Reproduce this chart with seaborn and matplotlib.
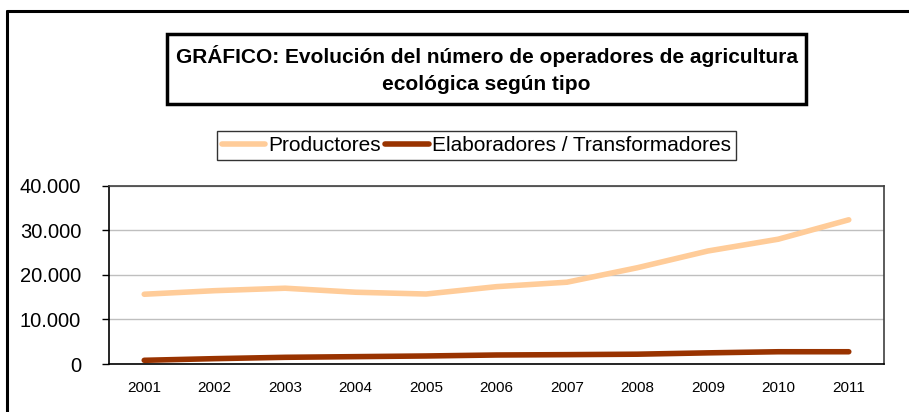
import matplotlib
matplotlib.use("Agg")
import matplotlib.pyplot as plt
from matplotlib.patches import Rectangle
from matplotlib.lines import Line2D
from matplotlib.ticker import FuncFormatter, FixedLocator
import seaborn as sns
import pandas as pd
import numpy as np

years = ["2001", "2002", "2003", "2004", "2005", "2006", "2007", "2008", "2009", "2010", "2011"]
productores = [15650, 16450, 17000, 16100, 15700, 17350, 18350, 21600, 25350, 28000, 32350]
elaboradores = [830, 1200, 1500, 1650, 1800, 2020, 2100, 2200, 2500, 2750, 2750]
series_names = ["Productores", "Elaboradores / Transformadores"]
colors = ["#FFCC99", "#993300"]
title_lines = ["GRÁFICO: Evolución del número de operadores de agricultura", "ecológica según tipo"]

sns.set_theme(style="white")
plt.rcParams["font.family"] = ["Liberation Sans", "DejaVu Sans"]
plt.rcParams["text.color"] = "black"
plt.rcParams["xtick.color"] = "black"
plt.rcParams["ytick.color"] = "black"

df = pd.DataFrame({
    "x": list(range(len(years))) * 2,
    "valor": productores + elaboradores,
    "serie": [series_names[0]] * len(years) + [series_names[1]] * len(years),
})

W, H = 909, 412
fig = plt.figure(figsize=(W / 100, H / 100), dpi=100)
ax = fig.add_axes([109 / W, 1 - 364 / H, (884 - 109) / W, (364 - 185.7) / H])

sns.lineplot(data=df, x="x", y="valor", hue="serie", palette=colors,
             linewidth=4.0, ax=ax, legend=False, solid_capstyle="round")

ax.set_xlim(-0.5, len(years) - 0.5)
ax.set_ylim(0, 40000)
ax.set_xlabel("")
ax.set_ylabel("")
ax.set_yticks([0, 10000, 20000, 30000, 40000])
ax.yaxis.set_major_formatter(FuncFormatter(lambda v, p: f"{int(v):,}".replace(",", ".")))
ax.set_xticks(range(len(years)))
ax.set_xticklabels(years)
ax.xaxis.set_minor_locator(FixedLocator(np.arange(-0.5, len(years), 1.0)))
ax.tick_params(axis="x", which="major", length=0, labelsize=11, pad=12, labelcolor="black")
ax.tick_params(axis="x", which="minor", length=5, width=1, color="black", direction="out")
ax.tick_params(axis="y", which="major", length=5, width=1, color="black", direction="out",
               labelsize=14.5, pad=15, left=True, labelcolor="black")
ax.grid(axis="y", color="#BFBFBF", linewidth=1)
ax.set_axisbelow(True)
for s in ["left", "bottom"]:
    ax.spines[s].set_color("black")
    ax.spines[s].set_linewidth(1.2)
for s in ["top", "right"]:
    ax.spines[s].set_color("#404040")
    ax.spines[s].set_linewidth(1.2)
    ax.spines[s].set_visible(True)

# outer frame (left and top)
fig.add_artist(Line2D([7 / W, 7 / W], [0, 1 - 11 / H], transform=fig.transFigure, color="black", linewidth=2.2))
fig.add_artist(Line2D([7 / W, 1], [1 - 11 / H, 1 - 11 / H], transform=fig.transFigure, color="black", linewidth=2.2))

# title box
fig.add_artist(Rectangle((167 / W, 1 - 104 / H), (806 - 167) / W, (104 - 34) / H,
                         transform=fig.transFigure, fill=False, edgecolor="black", linewidth=2.5))
fig.text(486.5 / W, 1 - 56 / H, title_lines[0], ha="center", va="center", fontsize=15, fontweight="bold")
fig.text(486.5 / W, 1 - 84 / H, title_lines[1], ha="center", va="center", fontsize=15, fontweight="bold")

handles = [Line2D([0], [0], color=c, linewidth=4.0, solid_capstyle="round") for c in colors]
leg = fig.legend(handles, series_names, loc="center", bbox_to_anchor=(476.5 / W, 1 - 145.5 / H),
                 ncol=2, frameon=True, fancybox=False, fontsize=15, handlelength=2.1,
                 handletextpad=0.15, columnspacing=0.2, borderpad=0.25, borderaxespad=0)
leg.get_frame().set_edgecolor("black")
leg.get_frame().set_linewidth(1.0)

fig.savefig("out.png", dpi=100)
